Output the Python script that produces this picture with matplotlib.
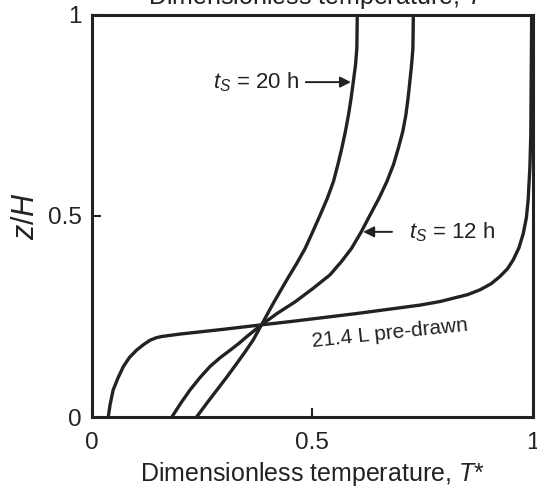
import matplotlib
matplotlib.use("Agg")
import matplotlib.pyplot as plt

plt.rcParams['font.family'] = ['Liberation Sans', 'DejaVu Sans']
plt.rcParams['mathtext.fontset'] = 'custom'
plt.rcParams['mathtext.rm'] = 'Liberation Sans'
plt.rcParams['mathtext.it'] = 'Liberation Sans:italic'

# profiles: (T*, z/H)
pre_T = [0.038, 0.042, 0.049, 0.06, 0.072, 0.086, 0.102, 0.118, 0.133, 0.147, 0.159, 0.20, 0.30, 0.385,
         0.45, 0.60, 0.744, 0.790, 0.819, 0.852, 0.880, 0.905, 0.925, 0.942, 0.955, 0.968, 0.978,
         0.985, 0.989, 0.993, 0.995, 0.996, 0.997]
pre_z = [0.0, 0.03, 0.067, 0.097, 0.125, 0.148, 0.166, 0.180, 0.191, 0.197, 0.200, 0.206, 0.218, 0.229,
         0.237, 0.257, 0.278, 0.287, 0.295, 0.304, 0.316, 0.331, 0.349, 0.368, 0.390, 0.420, 0.456,
         0.495, 0.539, 0.622, 0.70, 0.85, 1.0]

h12_T = [0.182, 0.202, 0.223, 0.245, 0.268, 0.291, 0.314, 0.334, 0.352, 0.369, 0.385, 0.42, 0.461,
         0.50, 0.540, 0.566, 0.589, 0.611, 0.631, 0.651, 0.669, 0.684, 0.695, 0.705, 0.712, 0.717,
         0.721, 0.725, 0.728, 0.729]
h12_z = [0.0, 0.034, 0.067, 0.097, 0.125, 0.147, 0.166, 0.183, 0.200, 0.215, 0.229, 0.257, 0.286,
         0.318, 0.353, 0.386, 0.419, 0.460, 0.502, 0.543, 0.585, 0.627, 0.668, 0.709, 0.750, 0.792,
         0.833, 0.875, 0.916, 1.0]

h20_T = [0.238, 0.261, 0.284, 0.307, 0.329, 0.348, 0.366, 0.385, 0.413, 0.442, 0.464, 0.484, 0.501,
         0.518, 0.534, 0.548, 0.558, 0.567, 0.575, 0.582, 0.588, 0.593, 0.598, 0.601, 0.602]
h20_z = [0.0, 0.034, 0.067, 0.100, 0.133, 0.162, 0.191, 0.229, 0.285, 0.340, 0.380, 0.419, 0.460,
         0.502, 0.543, 0.585, 0.627, 0.668, 0.709, 0.750, 0.792, 0.833, 0.875, 0.916, 1.0]

xticks = [0, 0.5, 1]
yticks = [0, 0.5, 1]
xtick_labels = ['0', '0.5', '1']
ytick_labels = ['0', '0.5', '1']

fig = plt.figure(figsize=(5.37, 4.87), dpi=100)
ax = fig.add_axes([91.5 / 537, 70 / 487, 441.5 / 537, 402.5 / 487])

lc = '#222222'
for T, z in [(pre_T, pre_z), (h12_T, h12_z), (h20_T, h20_z)]:
    ax.plot(T, z, color=lc, lw=2.4, solid_capstyle='round', solid_joinstyle='round')

ax.set_xlim(0, 1)
ax.set_ylim(0, 1)
ax.set_xticks(xticks)
ax.set_xticklabels(xtick_labels)
ax.set_yticks(yticks)
ax.set_yticklabels(ytick_labels)
ax.tick_params(direction='in', length=6.5, width=1.5, color=lc, labelsize=17.5, labelcolor=lc)
ax.tick_params(axis='x', pad=11)
ax.tick_params(axis='y', pad=7)
for s in ax.spines.values():
    s.set_linewidth(2.2)
    s.set_color(lc)

ax.set_xlabel('Dimensionless temperature, $\\it{T}$*', fontsize=18, labelpad=4, color=lc)
ax.set_ylabel('$z/H$', fontsize=22, labelpad=5, color=lc)
# duplicated label, clipped at the top edge as in the source
fig.text(0.596, 1 - 4 / 487, 'Dimensionless temperature, $\\it{T}$*', fontsize=18,
         ha='center', va='baseline', color=lc)

ax.annotate('', xy=(0.594, 0.832), xytext=(0.479, 0.832),
            arrowprops=dict(arrowstyle='-|>', color=lc, lw=1.4, mutation_scale=16))
ax.text(0.470, 0.832, '$t_S$ = 20 h', fontsize=16, ha='right', va='center', color=lc)

ax.annotate('', xy=(0.609, 0.460), xytext=(0.687, 0.460),
            arrowprops=dict(arrowstyle='-|>', color=lc, lw=1.4, mutation_scale=16))
ax.text(0.72, 0.460, '$t_S$ = 12 h', fontsize=16, ha='left', va='center', color=lc)

ax.text(0.675, 0.207, '21.4 L pre-drawn', fontsize=15, ha='center', va='center',
        rotation=6, color=lc)

fig.savefig('out.png', dpi=100)
